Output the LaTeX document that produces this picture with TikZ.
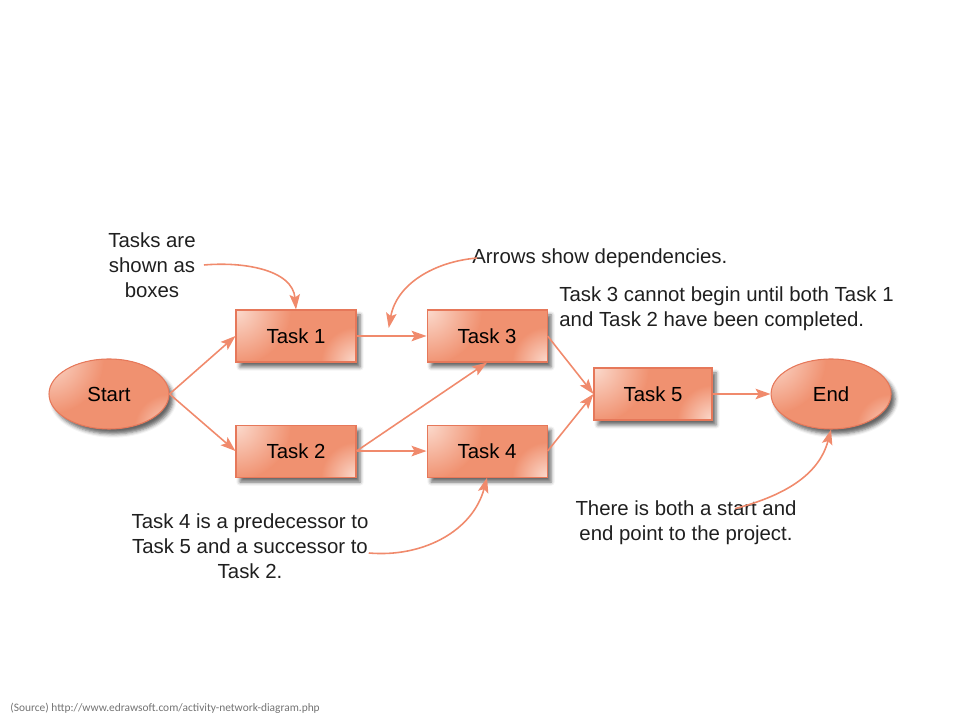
\documentclass[tikz,border=0pt]{standalone}
\usepackage{fontspec}
\setmainfont{Liberation Sans}
\newfontfamily\srcfont{Carlito}
\usetikzlibrary{arrows.meta,positioning,shapes.geometric,shadows.blur,calc}
\definecolor{salmon}{RGB}{240,145,112}
\definecolor{salmonlt}{RGB}{251,218,205}
\definecolor{salmonln}{RGB}{230,120,90}
\definecolor{arrowc}{RGB}{240,138,108}

\begin{document}
\begin{tikzpicture}[
  x=0.2mm, y=0.2mm,
  font=\fontsize{11.6}{14.2}\selectfont,
  salfill/.style={draw=salmonln,line width=0.6pt,
    path picture={
      \fill[salmon] (path picture bounding box.south west) rectangle (path picture bounding box.north east);
      \shade[inner color=salmonlt,outer color=salmon] (path picture bounding box.north west) circle (11mm);
      \shade[inner color=salmonlt,outer color=salmon] (path picture bounding box.south east) circle (7mm);},
    blur shadow={shadow xshift=0.8mm,shadow yshift=-1mm,shadow opacity=60}},
  task/.style={salfill,rectangle,minimum width=24mm,minimum height=10.4mm,inner sep=0pt},
  term/.style={salfill,ellipse,minimum width=24mm,minimum height=14mm,inner sep=0pt},
  note/.style={align=center,text=black!88,inner sep=0pt},
  flow/.style={->,draw=arrowc,line width=0.9pt},
  >={Stealth[length=3mm,width=2.1mm,inset=0.6mm]}]
  \path[use as bounding box] (0,0) rectangle (960,720);
  % network
  \node[term] (start) at (109,326) {Start};
  \node[task] (t1) at (296,384) {Task 1};
  \node[task,below=12.4mm of t1] (t2) {Task 2};
  \node[task,right=14mm of t1] (t3) {Task 3};
  \node[task,right=14mm of t2] (t4) {Task 4};
  \node[task,minimum width=23.6mm] (t5) at (653,326) {Task 5};
  \node[term,right=11.6mm of t5] (finish) {End};
  \foreach \a/\b in {start.east/t1.west,start.east/t2.west,t1/t3,t2/t4,
    t2.east/t3.south,t3.east/t5.west,t4.east/t5.west,t5/finish}
    { \draw[flow] (\a) -- (\b); }
  % notes
  \node[note] (nbox) at (152,455) {Tasks are\\shown as\\boxes};
  \node[note,anchor=west] (ndep) at (472,462) {Arrows show dependencies.};
  \node[note,align=left,anchor=west] (nt3) at (559,411)
    {Task 3 cannot begin until both Task 1\\and Task 2 have been completed.};
  \node[note] (nt4) at (250,174)
    {Task 4 is a predecessor to\\Task 5 and a successor to\\Task 2.};
  \node[note] (nend) at (686,197) {There is both a start and\\end point to the project.};
  \node[font=\srcfont\fontsize{6.5}{7.5}\selectfont,text=black!55,anchor=west,inner sep=0pt]
    (src) at (10,12) {(Source) http://www.edrawsoft.com/activity-network-diagram.php};
  \coordinate (dep) at ($(t1.east)!0.46!(t3.west)+(0,8)$);
  \draw[flow] ([xshift=1.6mm]nbox.east) to[out=5,in=95] (t1.north);
  \draw[flow] ([xshift=1mm]ndep.west) to[out=185,in=80] (dep);
  \draw[flow] ([yshift=-1.4mm]nt4.east) to[out=-5,in=-105] (t4.south);
  \draw[flow] ([xshift=9.8mm,yshift=-1.6mm]nend.north) to[out=15,in=-105] (finish.south);
\end{tikzpicture}
\end{document}
